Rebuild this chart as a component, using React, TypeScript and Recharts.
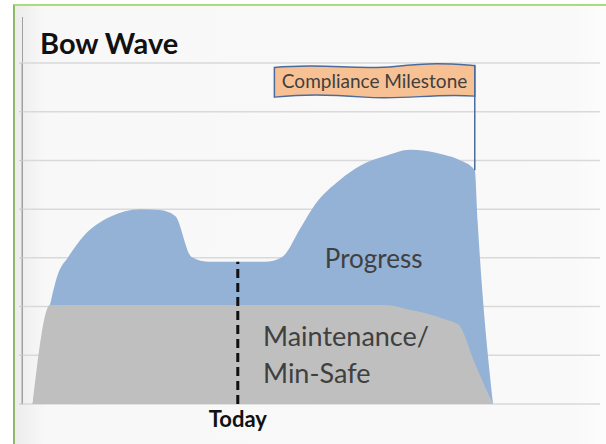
import { ComposedChart, Area, XAxis, YAxis, CartesianGrid, ReferenceLine, ReferenceArea, ReferenceDot } from "recharts"

// time position (arbitrary months) and heights
const periods = [1.1, 2.9, 3.7, 4.8, 6.5, 9.1, 12.3, 14.3, 15.9, 17.6, 19.5, 25.2, 27.0, 28.9, 30.4, 33.0, 35.1, 37.7, 40.3, 41.8, 43.9, 45.3, 47.0, 47.3, 48.9]
const totalWork = [0, 2.03, 2.65, 3.02, 3.47, 3.84, 4.0, 3.98, 3.86, 3.02, 2.92, 2.92, 3.02, 3.61, 4.09, 4.6, 4.89, 5.09, 5.22, 5.2, 5.11, 5.02, 4.8, 3.74, 0]
const maintenance = [0, 2.03, 2.03, 2.03, 2.03, 2.03, 2.03, 2.03, 2.03, 2.03, 2.03, 2.03, 2.03, 2.03, 2.03, 2.03, 2.03, 2.03, 1.93, 1.87, 1.74, 1.63, 0.84, 0.7, 0]
const yTicks = [0, 1, 2, 3, 4, 5, 6, 7]

const TODAY = 22.4
const MILESTONE = 47.0

const data = periods.map((t, i) => ({ t, total: totalWork[i], maint: maintenance[i] }))

const FONT = "Lato, 'Open Sans', sans-serif"
const TEXT = "#404040"

// wavy flag shape for the milestone banner
function Flag(props: any) {
  const { x, y, width: w, height: h } = props
  const top = `M${x},${y + 2} C${x + w * 0.25},${y - 3} ${x + w * 0.4},${y + 5} ${x + w * 0.6},${y + 1} S${x + w * 0.85},${y - 2} ${x + w},${y}`
  const bottom = `L${x + w},${y + h} C${x + w * 0.8},${y + h - 3} ${x + w * 0.65},${y + h + 4} ${x + w * 0.45},${y + h + 1} S${x + w * 0.15},${y + h - 2} ${x},${y + h + 1} Z`
  return <path d={top + bottom} fill="#f8c193" stroke="#4a6b9c" strokeWidth={1.5} />
}

export default function App() {
  return (
    <div style={{ position: "absolute", left: 0, top: 0, width: 606, height: 444, background: "#fff", overflow: "hidden" }}>
      <div
        style={{
          position: "absolute",
          left: 13,
          top: 4,
          width: 593,
          height: 440,
          borderTop: "2px solid #a9dc7c",
          borderLeft: "2px solid #8fb86a",
          background: "linear-gradient(90deg, #ececec 0px, #f8f8f8 30px, #f9f9f9 560px, #fdfdfd 593px)",
        }}
      />
      <div
        style={{
          position: "absolute",
          left: 22,
          top: 17,
          width: 1,
          height: 388,
          background: "#a0a0a0",
        }}
      />
      <div
        style={{
          position: "absolute",
          left: 40,
          top: 25,
          fontFamily: FONT,
          fontWeight: 700,
          fontSize: 29,
          color: "#111",
        }}
      >
        Bow Wave
      </div>
      <div style={{ position: "absolute", left: 0, top: 0 }}>
        <ComposedChart width={606} height={444} data={data} margin={{ top: 63, right: 6, bottom: 40, left: 19 }}>
          <CartesianGrid vertical={false} stroke="#d9d9d9" strokeWidth={1.5} />
          <XAxis dataKey="t" type="number" domain={[0, 60]} hide />
          <YAxis
            domain={[0, 7]}
            ticks={yTicks}
            width={3}
            tickSize={3}
            tickFormatter={() => ""}
            axisLine={{ stroke: "#a0a0a0" }}
            tickLine={{ stroke: "#c8c8c8" }}
          />
          <Area
            type="monotone"
            dataKey="total"
            fill="#94b1d6"
            fillOpacity={1}
            stroke="none"
            isAnimationActive={false}
          />
          <Area
            type="monotone"
            dataKey="maint"
            fill="#bfbfbf"
            fillOpacity={1}
            stroke="none"
            isAnimationActive={false}
          />
          <ReferenceLine
            segment={[{ x: TODAY, y: 0 }, { x: TODAY, y: 2.92 }]}
            stroke="#111"
            strokeWidth={3}
            strokeDasharray="9 5"
            label={(p: any) => {
              const vb = p.viewBox
              return (
                <text
                  x={vb.x}
                  y={vb.y + vb.height + 23}
                  textAnchor="middle"
                  fontFamily={FONT}
                  fontWeight={700}
                  fontSize={22}
                  fill="#111"
                >
                  Today
                </text>
              )
            }}
          />
          <ReferenceLine
            segment={[{ x: MILESTONE, y: 4.8 }, { x: MILESTONE, y: 6.95 }]}
            stroke="#4a6b9c"
            strokeWidth={1.5}
          />
          <ReferenceArea
            x1={26.2}
            x2={MILESTONE}
            y1={6.32}
            y2={6.95}
            shape={<Flag />}
            label={{ value: "Compliance Milestone", position: "center", fill: TEXT, fontFamily: FONT, fontSize: 19 }}
          />
          <ReferenceDot
            x={36.5}
            y={2.98}
            r={0}
            label={{ value: "Progress", position: "center", fill: TEXT, fontFamily: FONT, fontSize: 26 }}
          />
          <ReferenceDot
            x={24.5}
            y={1.38}
            r={0}
            label={{ value: "Maintenance/", position: "right", fill: TEXT, fontFamily: FONT, fontSize: 27 }}
          />
          <ReferenceDot
            x={24.5}
            y={0.62}
            r={0}
            label={{ value: "Min-Safe", position: "right", fill: TEXT, fontFamily: FONT, fontSize: 27 }}
          />
        </ComposedChart>
      </div>
    </div>
  )
}
